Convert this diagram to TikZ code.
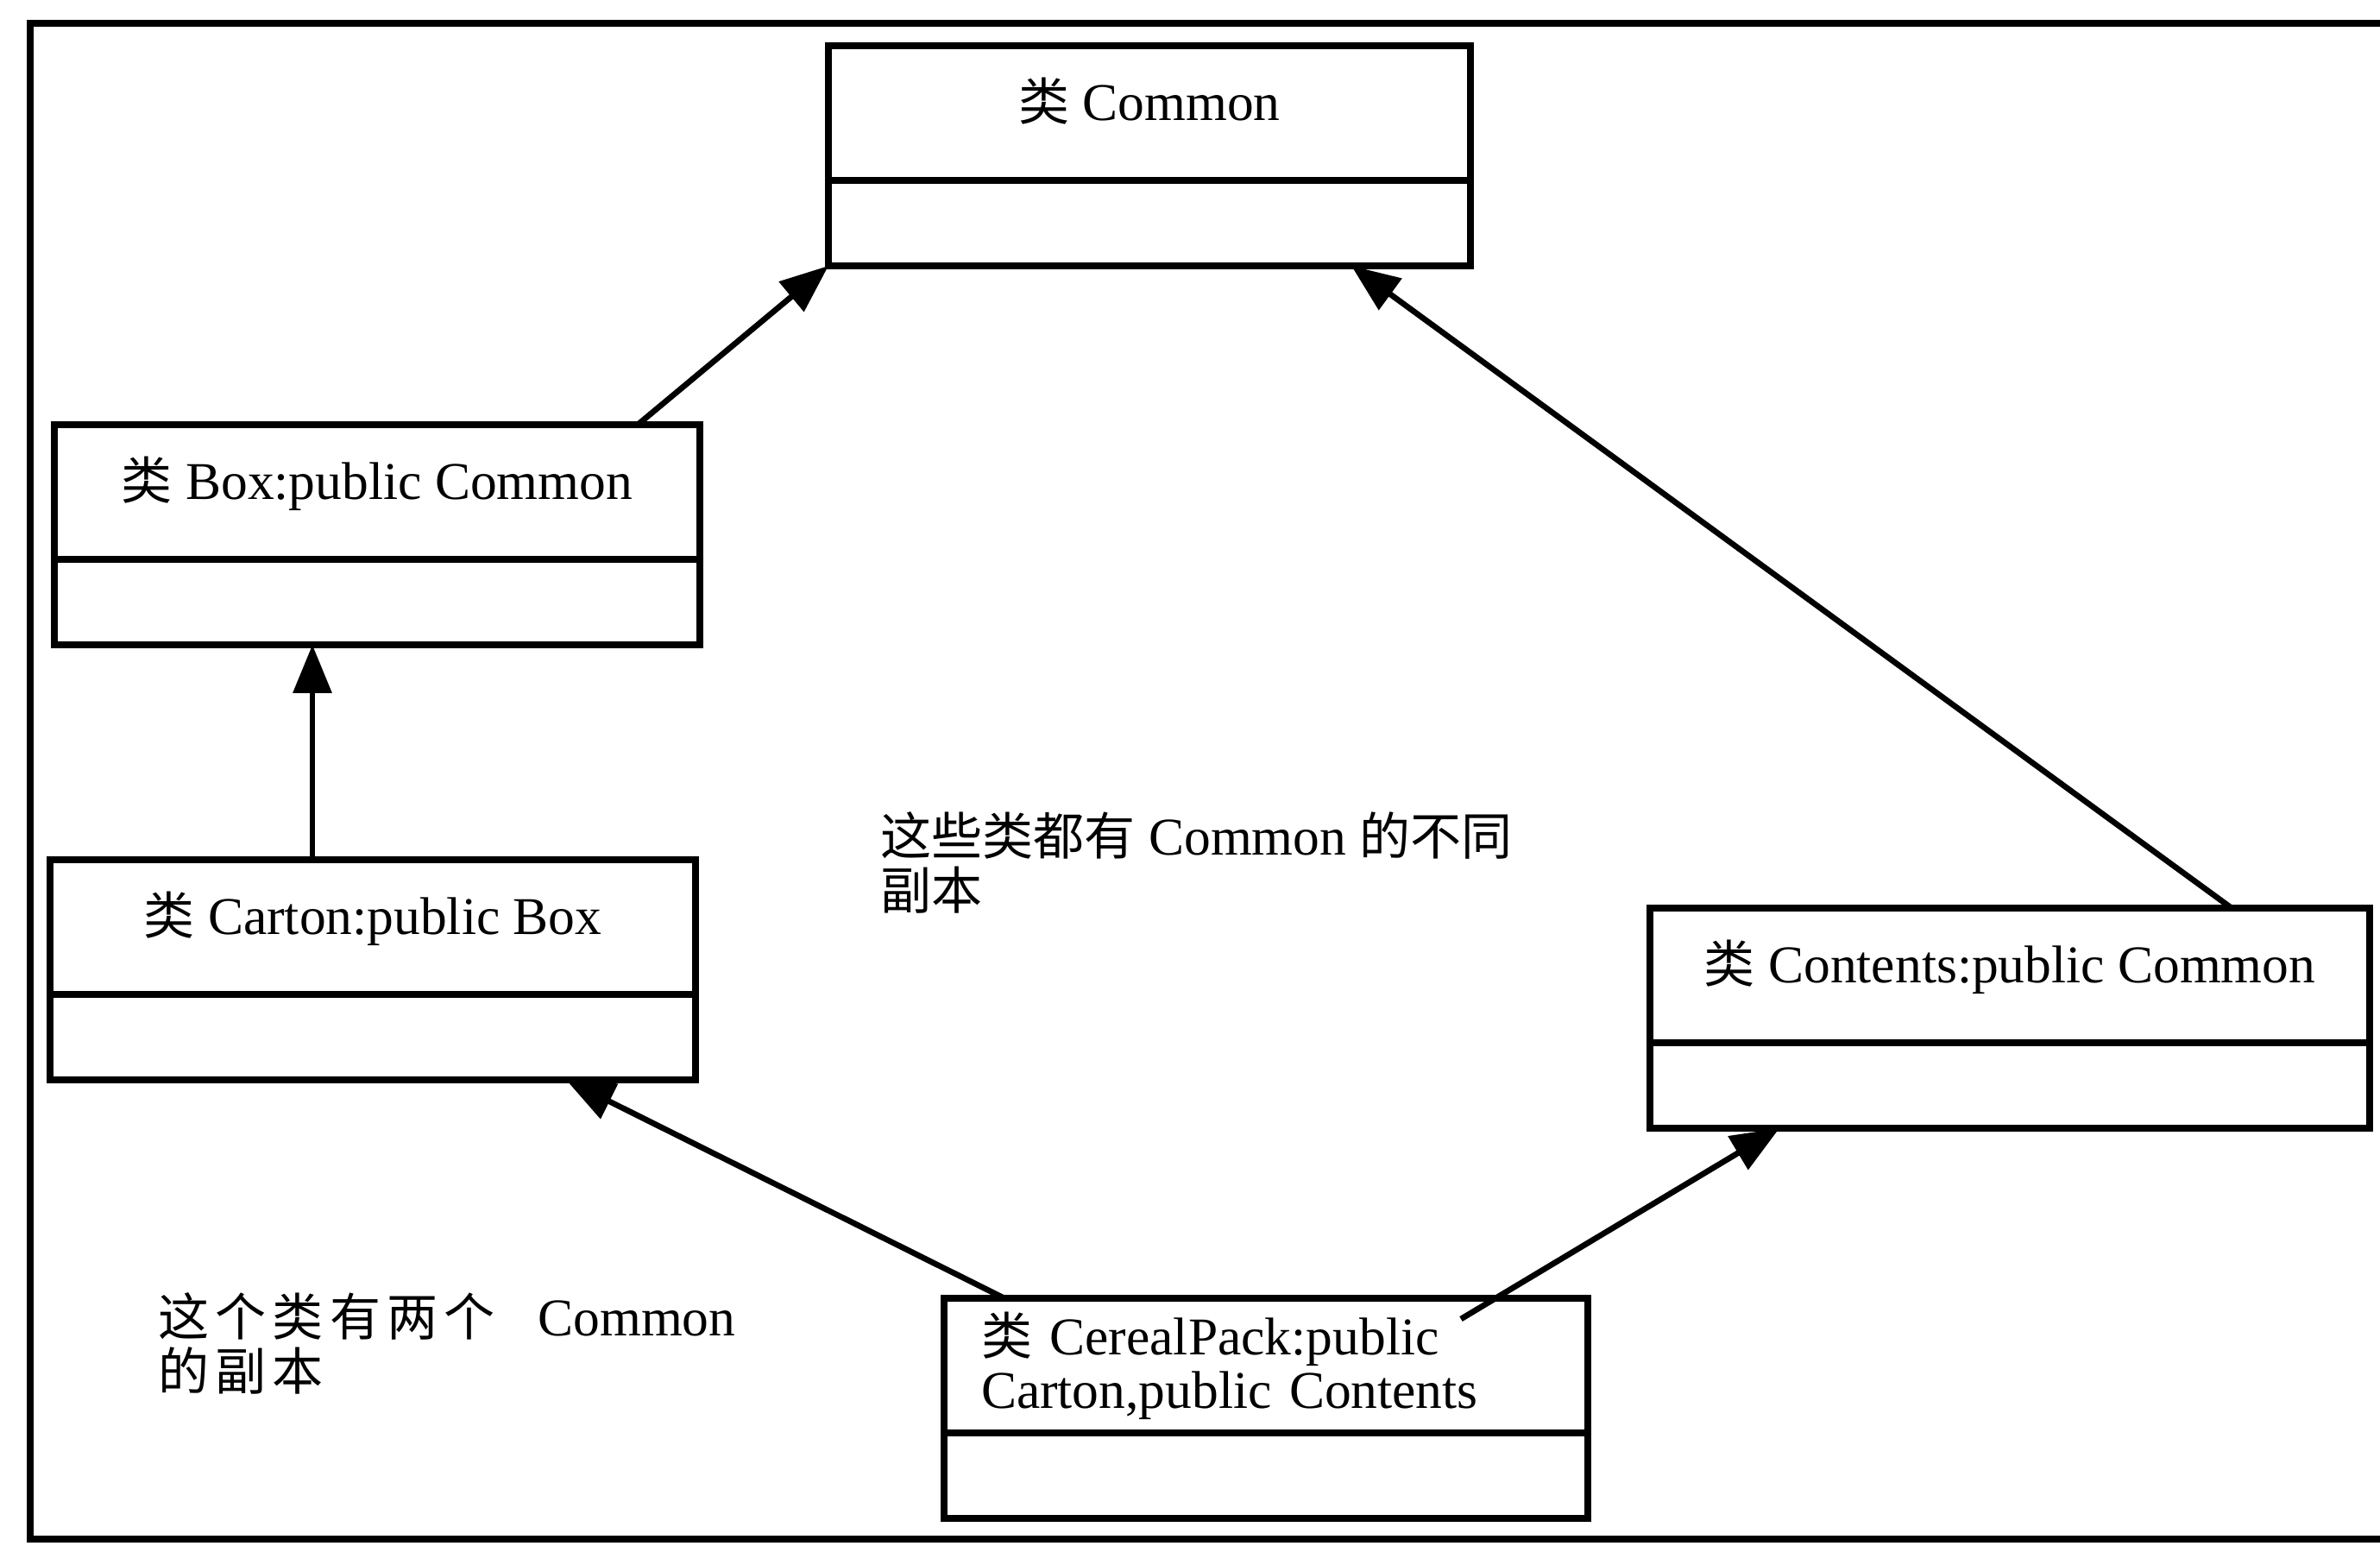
\documentclass[tikz,border=0pt]{standalone}
\usepackage{fontspec}
\setmainfont{Liberation Serif}
\newfontfamily\cjk[Scale=0.96]{Noto Sans CJK SC}
\newfontfamily\cjkwide[Scale=0.96, LetterSpace=12]{Noto Sans CJK SC}
\usepackage{tikz}
\usetikzlibrary{arrows.meta, positioning}
\tikzset{
  classhead/.style={rectangle, draw=black, line width=2.2pt, outer sep=0pt,
    inner sep=0pt, minimum height=1.56cm, font=\fontsize{17.5}{17.6}\selectfont,
    text height=0.5cm, text depth=0.32cm},
  classbody/.style={rectangle, draw=black, line width=2.2pt, outer sep=0pt,
    minimum height=0.99cm},
  note/.style={anchor=north west, inner sep=0pt, align=left,
    font=\fontsize{17.5}{18}\selectfont},
  arrow/.style={-{Triangle[length=0.56cm, width=0.44cm]}, line width=1.9pt}
}

\begin{document}
\begin{tikzpicture}
  \useasboundingbox (0,0) rectangle (27.58,17.90);

  % Outer frame (open on the right)
  \draw[line width=2.3pt] (27.58,0.07) -- (0.35,0.07) -- (0.35,17.63) -- (27.58,17.63);

  % Base class
  \node[classhead, minimum width=7.44cm] (common) at (13.32,16.59) {{\cjk 类} Common};
  \node[classbody, minimum width=7.44cm, below=0pt of common] (commonb) {};

  % Left branch
  \node[classhead, minimum width=7.48cm] (box) at (4.37,12.20) {{\cjk 类} Box:public Common};
  \node[classbody, minimum width=7.48cm, below=0pt of box] (boxb) {};

  \node[classhead, minimum width=7.48cm] (carton) at (4.32,7.16) {{\cjk 类} Carton:public Box};
  \node[classbody, minimum width=7.48cm, below=0pt of carton] (cartonb) {};

  % Right branch
  \node[classhead, minimum width=8.34cm] (contents) at (23.29,6.60) {{\cjk 类} Contents:public Common};
  \node[classbody, minimum width=8.34cm, below=0pt of contents] (contentsb) {};

  % Derived class with two bases
  \node[classhead, minimum width=7.46cm, text width=6.6cm, align=left,
    text height=, text depth=] (cereal) at (14.67,2.08)
    {{\cjk 类} CerealPack:public\\Carton,public Contents};
  \node[classbody, minimum width=7.46cm, below=0pt of cereal] (cerealb) {};

  % Inheritance arrows
  \draw[arrow] ([xshift=-0.72cm]box.north east) -- (commonb.south west);
  \draw[arrow] ([xshift=3.04cm]carton.north west) -- ([xshift=3.04cm]carton.north west |- boxb.south);
  \draw[arrow] ([xshift=-1.6cm]contents.north east) -- ([xshift=-1.38cm]commonb.south east);
  \draw[arrow] ([xshift=0.7cm]cereal.north west) -- ([xshift=-1.5cm]cartonb.south east);
  \draw[arrow] ([xshift=-1.47cm, yshift=-0.24cm]cereal.north east) -- ([xshift=1.5cm]contentsb.south west);

  % Notes
  \node[note] (copies) at (10.20,8.50) {{\cjk 这些类都有} Common {\cjk 的不同}\\{\cjk 副本}};
  \node[note] (twocopies) at (1.83,2.93) {{\cjkwide 这个类有两个}\hspace{0.5cm}Common\\{\cjkwide 的副本}};
\end{tikzpicture}
\end{document}
